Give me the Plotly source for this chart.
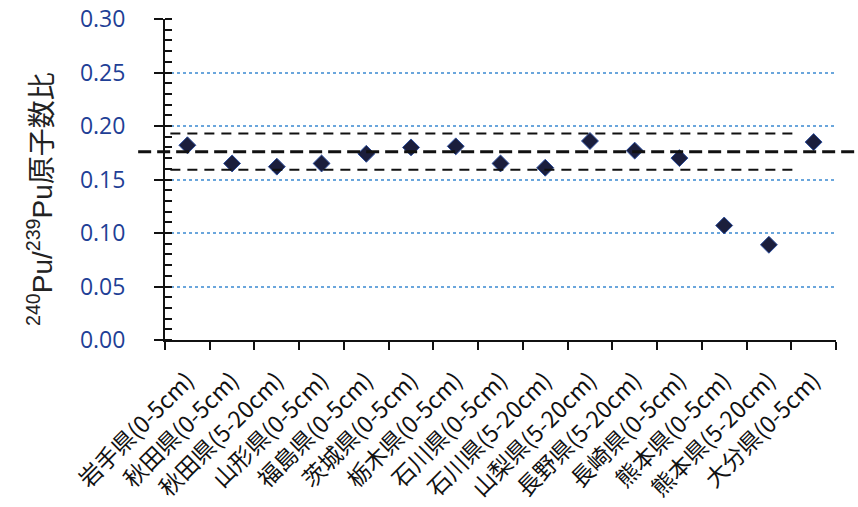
import plotly.graph_objects as go

# Sampling sites (prefecture and soil depth)
sites = [
    "岩手県(0-5cm)", "秋田県(0-5cm)", "秋田県(5-20cm)", "山形県(0-5cm)",
    "福島県(0-5cm)", "茨城県(0-5cm)", "栃木県(0-5cm)", "石川県(0-5cm)",
    "石川県(5-20cm)", "山梨県(5-20cm)", "長野県(5-20cm)", "長崎県(0-5cm)",
    "熊本県(0-5cm)", "熊本県(5-20cm)", "大分県(0-5cm)",
]
# 240Pu/239Pu atom ratios
ratios = [0.182, 0.165, 0.162, 0.165, 0.174, 0.180, 0.181, 0.165,
          0.161, 0.186, 0.177, 0.170, 0.107, 0.089, 0.185]

# Global fallout reference: mean and ±range
fallout_mean = 0.176
fallout_band = [0.193, 0.159]

y_ticks = [0.00, 0.05, 0.10, 0.15, 0.20, 0.25, 0.30]
y_tick_text = ["0.00", "0.05", "0.10", "0.15", "0.20", "0.25", "0.30"]

label_font = "Noto Sans CJK JP"
title_font = "Liberation Sans, Noto Sans CJK JP"
num_font = "Open Sans"

fig = go.Figure()
fig.add_trace(go.Scatter(
    x=sites, y=ratios, mode="markers",
    marker=dict(symbol="diamond", size=13, color="#1b1e3c",
                line=dict(color="#2b4c9b", width=1)),
    showlegend=False, cliponaxis=False,
))
# invisible trace carrying the inner tick marks axis
fig.add_trace(go.Scatter(x=[sites[0]], y=[0], yaxis="y2", mode="markers",
                         marker=dict(opacity=0), showlegend=False,
                         hoverinfo="skip"))

# mean line runs past both ends of the plot area
fig.add_shape(type="line", xref="paper", yref="y", x0=-0.040, x1=1.04,
              y0=fallout_mean, y1=fallout_mean,
              line=dict(color="#111111", width=3, dash="13px,6px"))
for v in fallout_band:
    fig.add_shape(type="line", xref="paper", yref="y", x0=0.008, x1=0.942,
                  y0=v, y1=v,
                  line=dict(color="#111111", width=2, dash="10px,7px"))

fig.add_annotation(
    text="<sup>240</sup>Pu/<sup>239</sup>Pu原子数比",
    xref="paper", yref="paper", x=-0.186, y=0.44,
    xanchor="center", yanchor="middle", textangle=-90, showarrow=False,
    font=dict(family=title_font, size=28, color="#222222"),
)

fig.update_layout(
    width=858, height=507,
    margin=dict(l=165, r=22, t=19, b=167, autoexpand=False),
    paper_bgcolor="white", plot_bgcolor="white",
    xaxis=dict(
        type="category", tickangle=-45, tickson="boundaries",
        ticks="outside", ticklen=8, tickwidth=2, tickcolor="#111111",
        showline=True, linecolor="#111111", linewidth=2,
        showgrid=False, zeroline=False, automargin=False,
        ticklabelstandoff=16,
        tickfont=dict(family=label_font, size=23, color="#111111"),
        range=[-0.5, len(sites) - 0.5],
    ),
    yaxis=dict(
        range=[0, 0.30], tickvals=y_ticks, ticktext=y_tick_text,
        ticks="outside", ticklen=9, tickwidth=2, tickcolor="#111111",
        showline=True, linecolor="#111111", linewidth=2, automargin=False,
        showgrid=True, gridcolor="#6aa6dc", gridwidth=1.5, griddash="dot",
        zeroline=False, ticklabelstandoff=24,
        tickfont=dict(family=num_font, size=23, color="#1f3f96"),
        minor=dict(dtick=0.01, ticks="inside", ticklen=7, tickwidth=2,
                   tickcolor="#111111", showgrid=False),
    ),
    yaxis2=dict(
        overlaying="y", range=[0, 0.30], tickvals=y_ticks, automargin=False,
        ticks="inside", ticklen=7, tickwidth=2, tickcolor="#111111",
        showticklabels=False, showgrid=False, zeroline=False, showline=False,
    ),
)

fig.write_html("out.html")
